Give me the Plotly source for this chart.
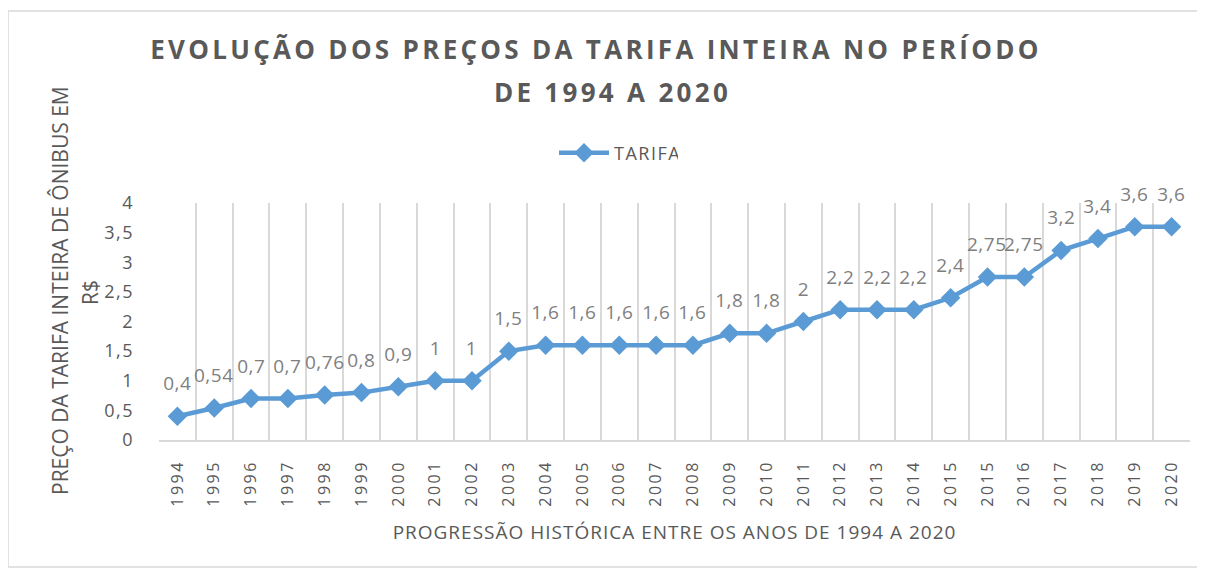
import plotly.graph_objects as go

years = ["1994", "1995", "1996", "1997", "1998", "1999", "2000", "2001", "2002", "2003",
         "2004", "2005", "2006", "2007", "2008", "2009", "2010", "2011", "2012", "2013",
         "2014", "2015", "2015", "2016", "2017", "2018", "2019", "2020"]
tarifa = [0.4, 0.54, 0.7, 0.7, 0.76, 0.8, 0.9, 1, 1, 1.5,
          1.6, 1.6, 1.6, 1.6, 1.6, 1.8, 1.8, 2, 2.2, 2.2,
          2.2, 2.4, 2.75, 2.75, 3.2, 3.4, 3.6, 3.6]
ytick_vals = [0, 0.5, 1, 1.5, 2, 2.5, 3, 3.5, 4]
ytick_text = ["0", "0,5", "1", "1,5", "2", "2,5", "3", "3,5", "4"]

title_line1 = "EVOLUÇÃO DOS PREÇOS DA TARIFA INTEIRA NO PERÍODO"
title_line2 = "DE 1994 A 2020"
ytitle_line1 = "PREÇO DA TARIFA INTEIRA DE ÔNIBUS EM"
ytitle_line2 = "R$"
xtitle = "PROGRESSÃO HISTÓRICA ENTRE OS ANOS DE 1994 A 2020"

xpos = list(range(len(years)))
labels = [("%g" % v).replace(".", ",") for v in tarifa]

FONT = "Open Sans"
GRAY = "#595959"

# page geometry (body has an 8px margin)
W, H = 1197, 563
PL, PR, PT, PB = 159, 1190, 203, 440  # plot area in page px


def px_x(px):
    return (px - PL) / (PR - PL)


def px_y(py):
    return (PB - py) / (PB - PT)


fig = go.Figure()
fig.add_trace(go.Scatter(
    x=xpos, y=tarifa, mode="lines+markers", name="TARIFA",
    line=dict(color="#5b9bd5", width=4.5),
    marker=dict(symbol="diamond", size=15, color="#5b9bd5"),
))

for x, y, t in zip(xpos, tarifa, labels):
    fig.add_annotation(x=x, y=y, text=t, showarrow=False, yshift=33,
                       font=dict(family=FONT, size=19, color="#7f7f7f"))

fig.add_annotation(xref="paper", yref="paper", x=px_x(612), y=px_y(92),
                   xanchor="center", yanchor="middle", showarrow=False,
                   text="<b>" + title_line2 + "</b>",
                   font=dict(family=FONT, size=26, color=GRAY))
fig.add_annotation(xref="paper", yref="paper", x=px_x(60), y=px_y(291),
                   xanchor="center", yanchor="middle", showarrow=False, textangle=-90,
                   text=ytitle_line1, font=dict(family=FONT, size=21, color=GRAY))
fig.add_annotation(xref="paper", yref="paper", x=px_x(90), y=px_y(293),
                   xanchor="center", yanchor="middle", showarrow=False, textangle=-90,
                   text=ytitle_line2, font=dict(family=FONT, size=21, color=GRAY))

fig.update_layout(
    width=W, height=H,
    paper_bgcolor="white", plot_bgcolor="white",
    margin=dict(l=PL - 8, r=W + 8 - PR, t=PT - 8, b=H + 8 - PB),
    title=dict(
        text="<b>" + title_line1 + "</b>",
        xref="container", yref="container",
        x=(596 - 8) / W, xanchor="center", y=1 - (50 - 8) / H, yanchor="middle",
        font=dict(family=FONT, size=26, color=GRAY),
    ),
    showlegend=True,
    legend=dict(orientation="h", x=px_x(616), xanchor="center", y=px_y(153), yanchor="middle",
                itemwidth=50,
                font=dict(family=FONT, size=18, color=GRAY), bgcolor="rgba(0,0,0,0)"),
    xaxis=dict(
        range=[-0.5, len(years) - 0.5],
        tickmode="array", tickvals=xpos, ticktext=years, tickangle=-90,
        tickfont=dict(family=FONT, size=16, color=GRAY),
        ticklabelstandoff=12,
        showgrid=False, zeroline=False,
        showline=True, linecolor="#d9d9d9", linewidth=1.5,
        minor=dict(tick0=-0.5, dtick=1, showgrid=True, gridcolor="#d9d9d9", gridwidth=1.5),
        ticks="",
        title=dict(text=xtitle, font=dict(family=FONT, size=19, color=GRAY), standoff=30),
    ),
    yaxis=dict(
        range=[0, 4], tickmode="array", tickvals=ytick_vals, ticktext=ytick_text,
        tickfont=dict(family=FONT, size=18, color=GRAY),
        ticklabelstandoff=24,
        showgrid=False, zeroline=False, showline=False, ticks="",
    ),
)

# chart border
fig.add_shape(type="rect", xref="paper", yref="paper",
              x0=px_x(8), x1=px_x(1200), y0=px_y(567), y1=px_y(11),
              line=dict(color="#d9d9d9", width=1.5), fillcolor="rgba(0,0,0,0)", layer="below")

post = """
var gd = document.getElementById('{plot_id}');
function ls(sel, v) { gd.querySelectorAll(sel).forEach(function(e){ e.style.letterSpacing = v; }); }
ls('.gtitle', '3.3px');
ls('.xtick text', '2.5px');
ls('.ytick text', '1.5px');
ls('.xtitle', '1px');
ls('.legendtext', '1.5px');
gd.querySelectorAll('.annotation-text').forEach(function(e){
  var t = e.textContent;
  if (t === 'DE 1994 A 2020') { e.style.letterSpacing = '3.3px'; }
  else if (/^[0-9]/.test(t)) { e.style.letterSpacing = '0.5px'; }
});
"""

fig.write_html("out.html", post_script=post)
